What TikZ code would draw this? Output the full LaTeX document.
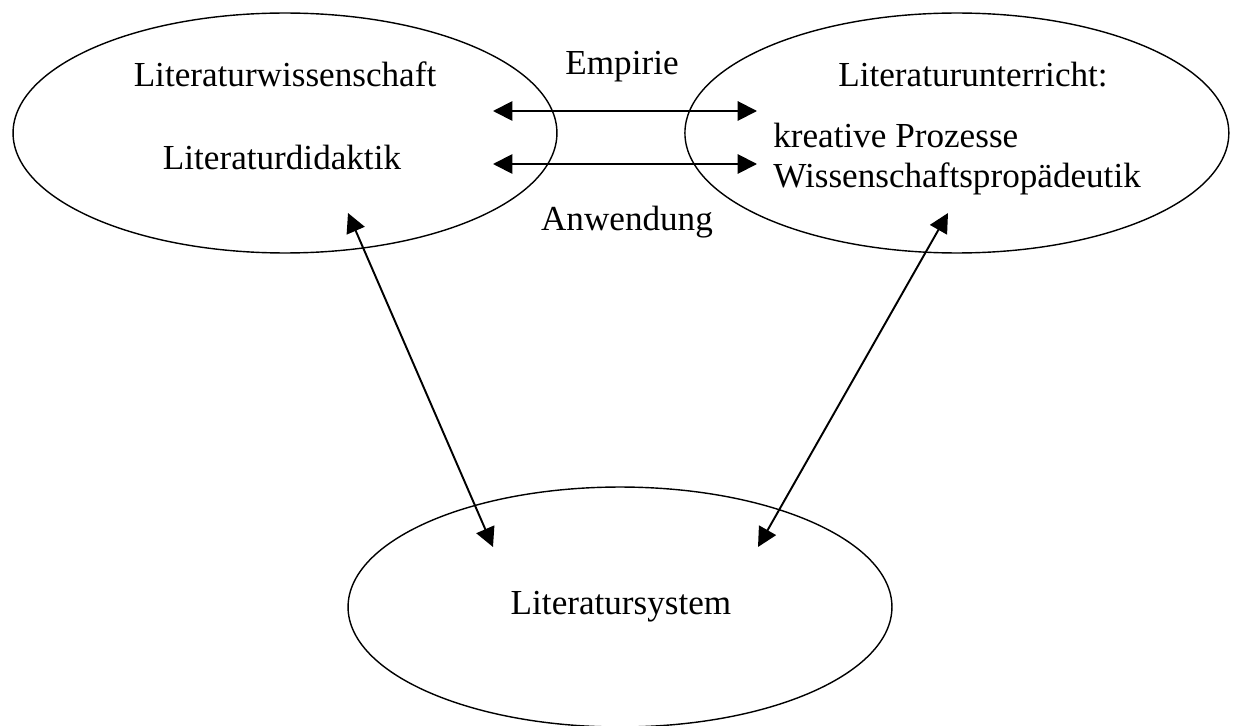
\documentclass[tikz,border=0pt]{standalone}
\usepackage{fontspec}
\setmainfont{Liberation Serif}
\usetikzlibrary{positioning, shapes.geometric, arrows.meta}
\tikzset{
	blob/.style={
		draw, % Draw a border
		ellipse, % Shape of the node
		minimum width=10.88cm, % Width of the ellipse
		minimum height=4.8cm, % Height of the ellipse
		inner sep=0pt,
		line width=0.8pt
	},
	txt/.style={
		inner sep=0pt, % Text sits right on its anchor
		font=\fontsize{20}{24}\selectfont
	},
	pfeil/.style={
		line width=1.1pt,
		% Filled triangle at both ends
		{Triangle[length=11pt, width=11pt]}-{Triangle[length=11pt, width=11pt]}
	}
}

\begin{document}
\begin{tikzpicture}[x=0.02cm, y=-0.02cm]
	\useasboundingbox (0,0) rectangle (1236,726);
	
	\node[blob] (wiss) at (285,133) {};
	\node[blob, node distance=13.44cm, right of = wiss] (unterricht) {};
	\node[blob] (system) at (620,607) {};
	
	\node[txt, anchor=base] (lw) at (285,87) {Literaturwissenschaft};
	\node[txt, anchor=base] (ld) at (282,170) {Literaturdidaktik};
	\node[txt, anchor=base] (emp) at (622,75) {Empirie};
	\node[txt, anchor=base] (anw) at (627,230) {Anwendung};
	\node[txt, anchor=base] (lu) at (973,87) {Literaturunterricht:};
	\node[txt, anchor=base west] (kp) at (773,148) {kreative Prozesse};
	\node[txt, anchor=base west] (wp) at (773,188) {Wissenschaftspropädeutik};
	\node[txt, anchor=base] (ls) at (621,614) {Literatursystem};
	
	\coordinate (o1) at (493,111);
	\coordinate (o2) at (757,111);
	\coordinate (u1) at (493,164);
	\coordinate (u2) at (757,164);
	\draw[pfeil] (o1) -- (o2);
	\draw[pfeil] (u1) -- (u2);
	
	\coordinate (l1) at (348,213);
	\coordinate (l2) at (493,547);
	\coordinate (r1) at (948,213);
	\coordinate (r2) at (758,547);
	\draw[pfeil] (l1) -- (l2);
	\draw[pfeil] (r1) -- (r2);
	
\end{tikzpicture}
\end{document}
